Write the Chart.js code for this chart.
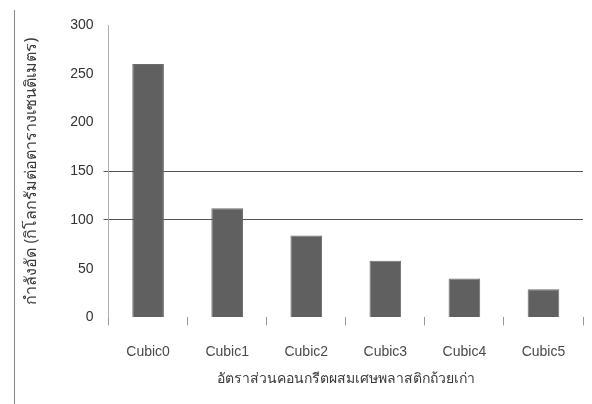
<!DOCTYPE html>
<html>
<head>
<meta charset="utf-8">
<script src="https://cdn.jsdelivr.net/npm/chart.js@4"></script>
<style>
  html, body { margin: 0; padding: 0; background: #fff; }
  #wrap { position: relative; width: 592px; height: 404px; }
  #edge { position: absolute; left: 14px; top: 10px; bottom: 0; border-left: 1px solid #8a8a8a; }
</style>
</head>
<body>
<div id="wrap">
  <div id="edge"></div>
  <canvas id="strengthChart" width="592" height="404"></canvas>
</div>
<script>
'use strict';

const categories = ['Cubic0', 'Cubic1', 'Cubic2', 'Cubic3', 'Cubic4', 'Cubic5'];
const strengthValues = [260, 112, 84, 58, 40, 29];
const yTicks = [0, 50, 100, 150, 200, 250, 300];
const gridValues = [100, 150];  // only these rows have a line in the picture

const xTitle = 'อัตราส่วนคอนกรีตผสมเศษพลาสติกถ้วยเก่า';
const yTitle = 'กำลังอัด (กิโลกรัมต่อตารางเซนติเมตร)';

const thaiFont = "'Noto Sans', 'DejaVu Sans', sans-serif";
const latinFont = "'Liberation Sans', Arial, sans-serif";

const ctx = document.getElementById('strengthChart').getContext('2d');

const chart = new Chart(ctx, {
  type: 'bar',
  data: {
    labels: categories,
    datasets: [{
      data: strengthValues,
      backgroundColor: '#606060',
      borderColor: '#6c6c6c',
      borderWidth: 1,
      barPercentage: 0.4,
      categoryPercentage: 1
    }]
  },
  options: {
    responsive: false,
    animation: false,
    layout: { padding: { top: 25, right: 9, left: 22, bottom: 17 } },
    plugins: {
      legend: { display: false },
      tooltip: { enabled: false }
    },
    scales: {
      x: {
        grid: {
          offset: true,
          drawOnChartArea: false,
          color: '#9a9a9a',
          tickLength: 8
        },
        border: { display: false },
        ticks: {
          color: '#4a4a4a',
          padding: 18,
          font: { family: latinFont, size: 14 }
        },
        title: {
          display: true,
          text: xTitle,
          color: '#3a3a3a',
          padding: { top: -8, bottom: 0 },
          font: { family: thaiFont, size: 14 }
        }
      },
      y: {
        min: 0,
        max: 300,
        afterBuildTicks: (axis) => {
          axis.ticks = yTicks.map(v => ({ value: v }));
        },
        grid: {
          color: (c) => gridValues.includes(c.tick && c.tick.value) ? '#555' : 'rgba(0,0,0,0)',
          tickLength: 5
        },
        border: { color: '#b0b0b0' },
        ticks: {
          color: '#333',
          padding: 10,
          font: { family: latinFont, size: 14 }
        },
        title: {
          display: true,
          text: yTitle,
          color: '#3a3a3a',
          padding: { top: 0, bottom: 19 },
          font: { family: thaiFont, size: 16 }
        }
      }
    }
  }
});
</script>
</body>
</html>
